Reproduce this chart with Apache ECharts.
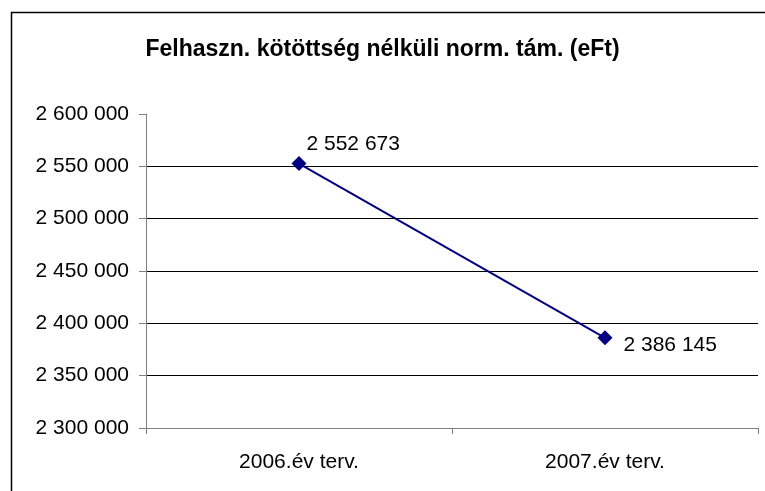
<!DOCTYPE html>
<html>
<head>
<meta charset="utf-8">
<script src="https://cdn.jsdelivr.net/npm/echarts@6/dist/echarts.min.js"></script>
<style>
  html, body { margin: 0; padding: 0; background: #fff; }
  #chart { width: 765px; height: 491px; }
</style>
</head>
<body>
<div id="chart"></div>
<script>
const titleText  = 'Felhaszn. kötöttség nélküli norm. tám. (eFt)';
const categories = ['2006.év terv.', '2007.év terv.'];
const values     = [2552673, 2386145];

// space as thousands separator, like the original
const fmt = v => String(Math.round(v)).replace(/\B(?=(\d{3})+(?!\d))/g, ' ');

const chart = echarts.init(document.getElementById('chart'));

chart.setOption({
  animation: false,
  backgroundColor: '#fff',
  textStyle: { fontFamily: 'Liberation Sans, Arial, sans-serif' },
  title: {
    text: titleText,
    left: 'center',
    top: 33,
    textStyle: { color: '#000', fontSize: 23, fontWeight: 'bold', fontFamily: 'Liberation Sans, Arial, sans-serif' }
  },
  graphic: [{
    type: 'rect',
    shape: { x: 11.5, y: 12.5, width: 900, height: 700 },
    style: { fill: 'none', stroke: '#000', lineWidth: 1.5 },
    silent: true
  }],
  grid: { left: 146, right: 7, top: 114, bottom: 63, containLabel: false },
  xAxis: {
    type: 'category',
    data: categories,
    boundaryGap: true,
    axisLine: { lineStyle: { color: '#808080', width: 1 } },
    axisTick: { show: true, length: 6, lineStyle: { color: '#808080' } },
    axisLabel: { color: '#000', fontSize: 21, margin: 24 }
  },
  yAxis: {
    type: 'value',
    min: 2300000,
    max: 2600000,
    interval: 50000,
    axisLine: { show: true, lineStyle: { color: '#808080', width: 1 } },
    axisTick: { show: true, length: 7, lineStyle: { color: '#808080' } },
    axisLabel: { color: '#000', fontSize: 21, margin: 17, formatter: fmt },
    splitLine: { show: true, showMaxLine: false, lineStyle: { color: '#000', width: 1 } }
  },
  series: [{
    type: 'line',
    data: [
      { value: values[0], label: { position: 'right', distance: 0, offset: [0, -19] } },
      { value: values[1], label: { position: 'right', distance: 11, offset: [0, 7] } }
    ],
    symbol: 'diamond',
    symbolSize: 15,
    lineStyle: { color: '#000080', width: 2 },
    itemStyle: { color: '#000080' },
    label: {
      show: true,
      color: '#000',
      fontSize: 21,
      formatter: p => fmt(p.value)
    }
  }]
});
</script>
</body>
</html>
